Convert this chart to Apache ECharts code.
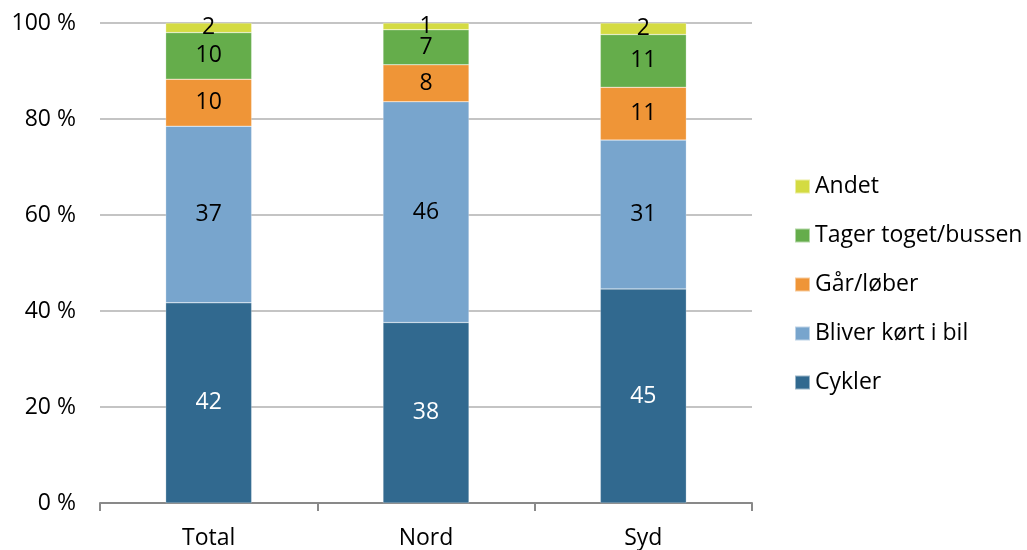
<!DOCTYPE html>
<html>
<head>
<meta charset="utf-8">
<script src="https://cdn.jsdelivr.net/npm/echarts@6/dist/echarts.min.js"></script>
<style>
  html, body { margin: 0; padding: 0; background: #fff; }
  #chart { width: 1027px; height: 550px; }
</style>
</head>
<body>
<div id="chart"></div>
<script>
const CATEGORIES = ['Total', 'Nord', 'Syd'];
const SERIES_NAMES = ['Cykler', 'Bliver kørt i bil', 'Går/løber', 'Tager toget/bussen', 'Andet'];
const COLORS = ['#31698f', '#78a5cd', '#ef9537', '#65ad4b', '#d4db42'];

// procent per kategori (Total, Nord, Syd)
const cykler = [41.7, 37.6, 44.6];
const bil = [36.8, 46.0, 31.0];
const gaar = [9.8, 7.7, 11.0];
const tog = [9.7, 7.3, 11.0];
const andet = [2.0, 1.4, 2.4];

const Y_TICKS = [0, 20, 40, 60, 80, 100];

const FONT = '"Open Sans", sans-serif';
const FS = 23;
const values = [cykler, bil, gaar, tog, andet];

const chart = echarts.init(document.getElementById('chart'));

const series = SERIES_NAMES.map(function (name, i) {
  return {
    name: name,
    type: 'bar',
    stack: 'total',
    barWidth: 86,
    data: values[i],
    itemStyle: {
      color: COLORS[i],
      borderColor: 'rgba(255,255,255,0.5)',
      borderWidth: 0.5
    },
    label: {
      show: true,
      position: 'inside',
      fontFamily: FONT,
      fontSize: FS,
      color: i === 0 ? '#ffffff' : '#000000',
      formatter: function (p) {
        return Math.round(p.value);
      }
    }
  };
});

const option = {
  animation: false,
  color: COLORS,
  grid: {
    left: 100,
    right: 275,
    top: 23,
    bottom: 47
  },
  legend: {
    orient: 'vertical',
    left: 794,
    top: 175,
    padding: 0,
    itemWidth: 15,
    itemHeight: 14,
    itemGap: 26,
    icon: 'rect',
    data: SERIES_NAMES.slice().reverse(),
    textStyle: {
      fontFamily: FONT,
      fontSize: FS,
      lineHeight: 22,
      color: '#000'
    }
  },
  xAxis: {
    type: 'category',
    data: CATEGORIES,
    axisLine: { lineStyle: { color: '#898989', width: 2 } },
    axisTick: { show: true, length: 8, lineStyle: { color: '#898989', width: 2 } },
    axisLabel: {
      fontFamily: FONT,
      fontSize: FS,
      color: '#000',
      margin: 24
    }
  },
  yAxis: {
    type: 'value',
    min: Y_TICKS[0],
    max: Y_TICKS[Y_TICKS.length - 1],
    interval: 20,
    axisLine: { show: false },
    axisTick: { show: false },
    splitLine: { lineStyle: { color: '#c4c4c4', width: 2 } },
    axisLabel: {
      fontFamily: FONT,
      fontSize: FS,
      color: '#000',
      margin: 24,
      formatter: '{value} %'
    }
  },
  series: series
};

chart.setOption(option);
</script>
</body>
</html>
